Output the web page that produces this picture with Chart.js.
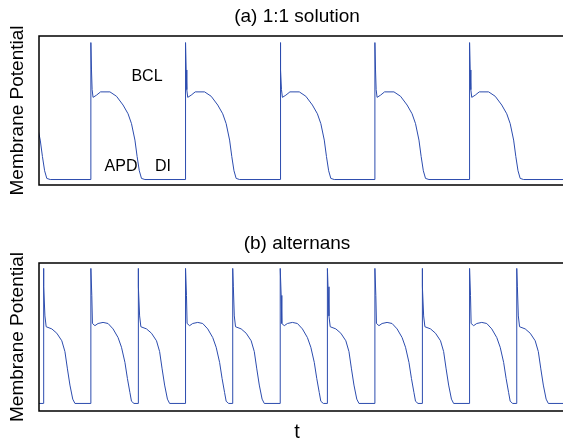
<!DOCTYPE html>
<html>
<head>
<meta charset="utf-8">
<script src="https://cdn.jsdelivr.net/npm/chart.js@4"></script>
<style>
  body { margin: 0; background: #fff; }
  .panel { position: absolute; left: 0; width: 563px; }
</style>
</head>
<body>
<div class="panel" style="top:0;height:215px"><canvas id="chartA"></canvas></div>
<div class="panel" style="top:215px;height:230px"><canvas id="chartB"></canvas></div>
<script>
// time in ms, membrane potential in mV
var apTimes = [0, 0, 2, 4, 7, 18, 31, 61, 82, 103, 119, 130, 141, 148, 155, 162, 173];
var apVolts = [-85, 40, 15, -3, -10, -8, -5, -5, -9, -17, -25, -34, -49, -64, -77, -84, -85];
var onsetsA = [-137, 166, 469, 772, 1075, 1378];

// alternans: short beats (no notch) and long beats (notch)
var shortTimes = [0, 0, 2, 5, 9, 27, 43, 59, 69, 77, 85, 94, 101];
var shortVolts = [-85, 40, 23, -4, -14, -16, -20, -27, -37, -53, -68, -81, -85];
var longTimes = [0, 0, 3, 5, 13, 23, 39, 55, 71, 87, 98, 109, 117, 125, 130, 138];
var longVolts = [-85, 40, 15, -11, -13, -11, -10, -11, -16, -24, -33, -47, -62, -75, -83, -85];
var onsetsB = [14, 166, 317, 469, 620, 772, 923, 1075, 1226, 1378, 1529];
var beatTypesB = ["short", "long", "short", "long", "short", "long", "short", "long", "short", "long", "short"];

var restV = -85;
var tEnd = 1677;
var lineColor = "#2c4cae";
var FONT = "'Liberation Sans', Arial, sans-serif";

function buildTrace(onsets, shapes) {
	var pts = [{ x: Math.min(onsets[0], 0) - 10, y: restV }];
	onsets.forEach(function (t0, i) {
		var s = shapes[i];
		for (var k = 0; k < s.t.length; k++) {
			pts.push({ x: t0 + s.t[k], y: s.v[k] });
		}
	});
	pts.push({ x: tEnd + 20, y: restV });
	return pts;
}

var apShape = { t: apTimes, v: apVolts };
var shortShape = { t: shortTimes, v: shortVolts };
var longShape = { t: longTimes, v: longVolts };

var traceA = buildTrace(onsetsA, onsetsA.map(function () { return apShape; }));
var traceB = buildTrace(onsetsB, beatTypesB.map(function (b) { return b === "short" ? shortShape : longShape; }));

// frame + texts
function framePlugin(title, texts) {
	return {
		id: "frame",
		afterDraw: function (chart) {
			var ctx = chart.ctx;
			var a = chart.chartArea;
			ctx.save();
			ctx.strokeStyle = "#000";
			ctx.lineWidth = 1.5;
			ctx.beginPath();
			ctx.moveTo(a.right + 2, a.top);
			ctx.lineTo(a.left, a.top);
			ctx.lineTo(a.left, a.bottom);
			ctx.lineTo(a.right + 2, a.bottom);
			ctx.stroke();

			ctx.fillStyle = "#000";
			ctx.textAlign = "center";
			ctx.textBaseline = "middle";
			ctx.font = "19px " + FONT;
			ctx.fillText(title, 297, a.top - 19);

			ctx.save();
			ctx.translate(18, (a.top + a.bottom) / 2);
			ctx.rotate(-Math.PI / 2);
			ctx.fillText("Membrane Potential", 0, 0);
			ctx.restore();

			texts.forEach(function (t) {
				ctx.font = t.size + "px " + FONT;
				ctx.fillText(t.text, t.x, t.y);
			});
			ctx.restore();
		},
	};
}

function makeChart(id, trace, yMin, yMax, pad, title, texts) {
	return new Chart(id, {
		type: "line",
		data: {
			datasets: [
				{
					data: trace,
					borderColor: lineColor,
					borderWidth: 1,
					pointRadius: 0,
					tension: 0,
					fill: false,
				},
			],
		},
		options: {
			animation: false,
			responsive: true,
			maintainAspectRatio: false,
			layout: { padding: pad },
			scales: {
				x: { type: "linear", min: 0, max: tEnd, display: false },
				y: { min: yMin, max: yMax, display: false },
			},
			plugins: {
				legend: { display: false },
				tooltip: { enabled: false },
			},
		},
		plugins: [framePlugin(title, texts)],
	});
}

makeChart("chartA", traceA, -90, 46, { top: 36, left: 39, right: 0, bottom: 30 }, "(a) 1:1 solution", [
	{ text: "BCL", x: 147, y: 77, size: 16 },
	{ text: "APD", x: 121, y: 167, size: 16 },
	{ text: "DI", x: 163, y: 167, size: 16 },
]);

makeChart("chartB", traceB, -92, 45, { top: 48, left: 39, right: 0, bottom: 34 }, "(b) alternans", [
	{ text: "t", x: 297, y: 217, size: 20 },
]);
</script>
</body>
</html>
